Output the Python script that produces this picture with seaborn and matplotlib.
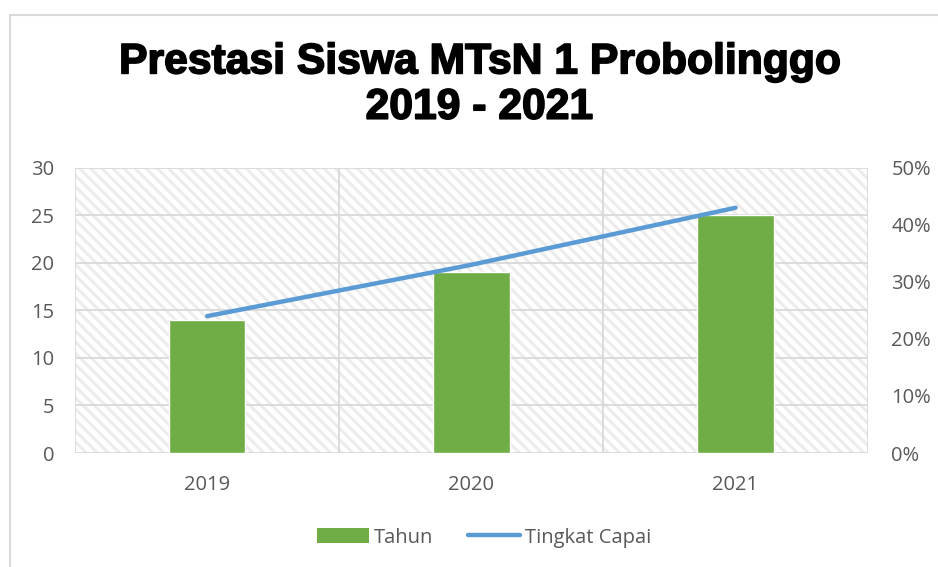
import matplotlib
matplotlib.use("Agg")
import matplotlib.pyplot as plt
import matplotlib.patheffects as pe
import seaborn as sns
import pandas as pd
from matplotlib.patches import Rectangle, Patch
from matplotlib.lines import Line2D
from matplotlib.ticker import FuncFormatter, FixedLocator

years = ["2019", "2020", "2021"]
tahun = [14, 19, 25]
tingkat_capai = [0.24, 0.33, 0.43]
title_lines = ["Prestasi Siswa MTsN 1 Probolinggo", "2019 - 2021"]

sns.set_theme(style="white")
plt.rcParams["font.family"] = ["Open Sans", "DejaVu Sans"]
plt.rcParams["hatch.linewidth"] = 2.2

df = pd.DataFrame({"year": years, "tahun": tahun, "capai": tingkat_capai})

fig = plt.figure(figsize=(9.38, 5.67), dpi=100)
ax = fig.add_axes([0.080, 0.201, 0.845, 0.503])

# hatched background
ax.add_patch(Rectangle((0, 0), 1, 1, transform=ax.transAxes, facecolor="white",
                       edgecolor="#ececec", hatch="\\\\\\", linewidth=0, zorder=0))

sns.barplot(data=df, x="year", y="tahun", ax=ax, color="#70ad47", width=0.29,
            saturation=1, zorder=3)
ax.set_ylim(0, 30)
ax.set_yticks([0, 5, 10, 15, 20, 25, 30])
ax.set_xlim(-0.5, 2.5)
ax.xaxis.set_minor_locator(FixedLocator([-0.5, 0.5, 1.5, 2.5]))
ax.grid(axis="y", which="major", color="#d9d9d9", linewidth=1.3, zorder=1)
ax.grid(axis="x", which="minor", color="#d9d9d9", linewidth=1.3, zorder=1)
ax.set_axisbelow(True)
for s in ax.spines.values():
    s.set_visible(False)
ax.set_xlabel("")
ax.set_ylabel("")
ax.tick_params(axis="both", which="both", length=0, labelsize=14.5, colors="#595959")
ax.tick_params(axis="x", pad=16)
ax.tick_params(axis="y", pad=15)

ax2 = ax.twinx()
sns.pointplot(data=df, x="year", y="capai", ax=ax2, color="#5b9bd5", marker="",
              linewidth=3.2)
ax2.set_ylim(0, 0.5)
ax2.set_yticks([0, 0.1, 0.2, 0.3, 0.4, 0.5])
ax2.yaxis.set_major_formatter(FuncFormatter(lambda v, p: f"{v*100:.0f}%"))
ax2.set_xlim(-0.5, 2.5)
for s in ax2.spines.values():
    s.set_visible(False)
ax2.set_ylabel("")
ax2.set_xlabel("")
ax2.tick_params(axis="y", length=0, labelsize=14.5, colors="#595959", pad=17)

stroke = [pe.withStroke(linewidth=1.2, foreground="black")]
fig.text(0.512, 0.890, title_lines[0], ha="center", va="center", fontsize=30.7,
         fontweight="bold", family=["Liberation Sans", "DejaVu Sans"], color="black",
         path_effects=stroke)
fig.text(0.511, 0.810, title_lines[1], ha="center", va="center", fontsize=30.7,
         fontweight="bold", family=["Liberation Sans", "DejaVu Sans"], color="black",
         path_effects=stroke)

handles = [Patch(facecolor="#70ad47", edgecolor="none"),
           Line2D([0], [0], color="#5b9bd5", linewidth=3.2, solid_capstyle="round")]
fig.legend(handles, ["Tahun", "Tingkat Capai"], loc="center", bbox_to_anchor=(0.516, 0.052),
           ncol=2, frameon=False, fontsize=14.5, labelcolor="#595959",
           handlelength=2.6, handleheight=0.8, columnspacing=1.7, handletextpad=0.25)

# outer chart frame
fig.patches.append(Rectangle((10/938, -0.1), 1.1, 0.1 + 1 - 15/567, transform=fig.transFigure,
                             facecolor="none", edgecolor="#d9d9d9", linewidth=1.5))

fig.savefig("out.png", dpi=100)
